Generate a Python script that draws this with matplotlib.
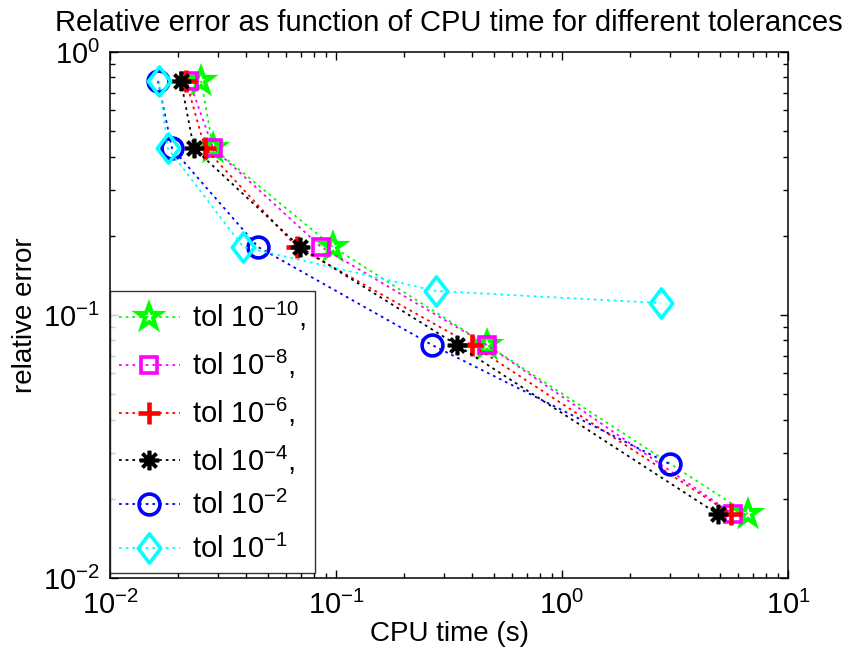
import numpy as np
import matplotlib
matplotlib.use("Agg")
import matplotlib.pyplot as plt
from matplotlib.path import Path
from matplotlib.markers import MarkerStyle
from matplotlib.ticker import LogLocator, LogFormatterMathtext, NullFormatter

plt.rcParams['font.family'] = ['Liberation Sans', 'DejaVu Sans']
plt.rcParams['mathtext.fontset'] = 'custom'
plt.rcParams['mathtext.rm'] = 'Liberation Sans'
plt.rcParams['mathtext.it'] = 'Liberation Sans:italic'
plt.rcParams['mathtext.bf'] = 'Liberation Sans:bold'

# ---- data ----
labels = [r'tol $10^{-10}$,', r'tol $10^{-8}$,', r'tol $10^{-6}$,',
          r'tol $10^{-4}$,', r'tol $10^{-2}$', r'tol $10^{-1}$']
colors = ['#00ff00', '#ff00ff', '#ff0000', '#000000', '#0000ff', '#00ffff']

cpu_tol10 = [0.0253, 0.0286, 0.097, 0.466, 6.65]
cpu_tol8 = [0.0224, 0.0286, 0.0859, 0.466, 5.71]
cpu_tol6 = [0.0217, 0.0263, 0.0671, 0.400, 5.60]
cpu_tol4 = [0.0206, 0.0235, 0.0693, 0.343, 4.89]
cpu_tol2 = [0.0163, 0.0188, 0.0452, 0.266, 3.00]
cpu_tol1 = [0.0165, 0.0180, 0.0388, 0.277, 2.74]

err_tol10 = [0.776, 0.431, 0.1814, 0.0769, 0.0175]
err_tol8 = [0.776, 0.431, 0.1814, 0.0769, 0.0175]
err_tol6 = [0.776, 0.431, 0.1814, 0.0769, 0.0175]
err_tol4 = [0.776, 0.431, 0.1814, 0.0769, 0.0175]
err_tol2 = [0.776, 0.431, 0.1814, 0.0769, 0.0271]
err_tol1 = [0.776, 0.431, 0.1814, 0.1234, 0.111]

cpus = [cpu_tol10, cpu_tol8, cpu_tol6, cpu_tol4, cpu_tol2, cpu_tol1]
errs = [err_tol10, err_tol8, err_tol6, err_tol4, err_tol2, err_tol1]

diamond = Path([(0, 1), (0.77, 0), (0, -1), (-0.77, 0), (0, 1)],
               [Path.MOVETO, Path.LINETO, Path.LINETO, Path.LINETO, Path.CLOSEPOLY])
markers = [MarkerStyle('*', joinstyle='miter'), 's', '+', (8, 2, 0), 'o', diamond]
msizes = [17, 12, 16, 14, 15, 21]
mews = [3.0, 2.6, 3.3, 2.6, 2.6, 2.6]

fig = plt.figure(figsize=(8.47, 6.61), dpi=100)
ax = fig.add_axes([110/847, 1 - 578/661, (788-110)/847, (578-52)/661])

for x, y, c, m, ms, mw, lab in zip(cpus, errs, colors, markers, msizes, mews, labels):
    ax.plot(x, y, linestyle=(0, (1.5, 2.2)), color=c, lw=1.3, marker=m, markersize=ms,
            markeredgewidth=mw, markerfacecolor='none', markeredgecolor=c, label=lab)

ax.set_xscale('log')
ax.set_yscale('log')
ax.set_xlim(1e-2, 1e1)
ax.set_ylim(1e-2, 1e0)
ax.xaxis.set_major_locator(LogLocator(base=10, numticks=10))
ax.yaxis.set_major_locator(LogLocator(base=10, numticks=10))
ax.xaxis.set_minor_locator(LogLocator(base=10, subs=np.arange(2, 10), numticks=20))
ax.yaxis.set_minor_locator(LogLocator(base=10, subs=np.arange(2, 10), numticks=20))
ax.xaxis.set_major_formatter(LogFormatterMathtext())
ax.yaxis.set_major_formatter(LogFormatterMathtext())
ax.xaxis.set_minor_formatter(NullFormatter())
ax.yaxis.set_minor_formatter(NullFormatter())
ax.tick_params(which='both', direction='in', top=True, right=True, labelsize=21, width=1)
ax.tick_params(which='major', length=6)
ax.tick_params(axis='x', which='major', pad=9)
ax.tick_params(axis='y', which='major', pad=7)
ax.tick_params(which='minor', length=3.5)
for s in ax.spines.values():
    s.set_linewidth(1.1)

ax.set_xlabel('CPU time (s)', fontsize=20, labelpad=1)
ax.set_ylabel('relative error', fontsize=20, labelpad=4)
ax.set_title('Relative error as function of CPU time for different tolerances', fontsize=21, pad=15)

leg = ax.legend(loc='lower left', bbox_to_anchor=(0, 5/526), borderaxespad=0,
                fontsize=21, frameon=True, fancybox=False, edgecolor='black',
                handlelength=2.1, labelspacing=0.5, borderpad=0.3, handletextpad=0.4)
leg.get_frame().set_linewidth(1.0)

fig.savefig('out.png', dpi=100)
